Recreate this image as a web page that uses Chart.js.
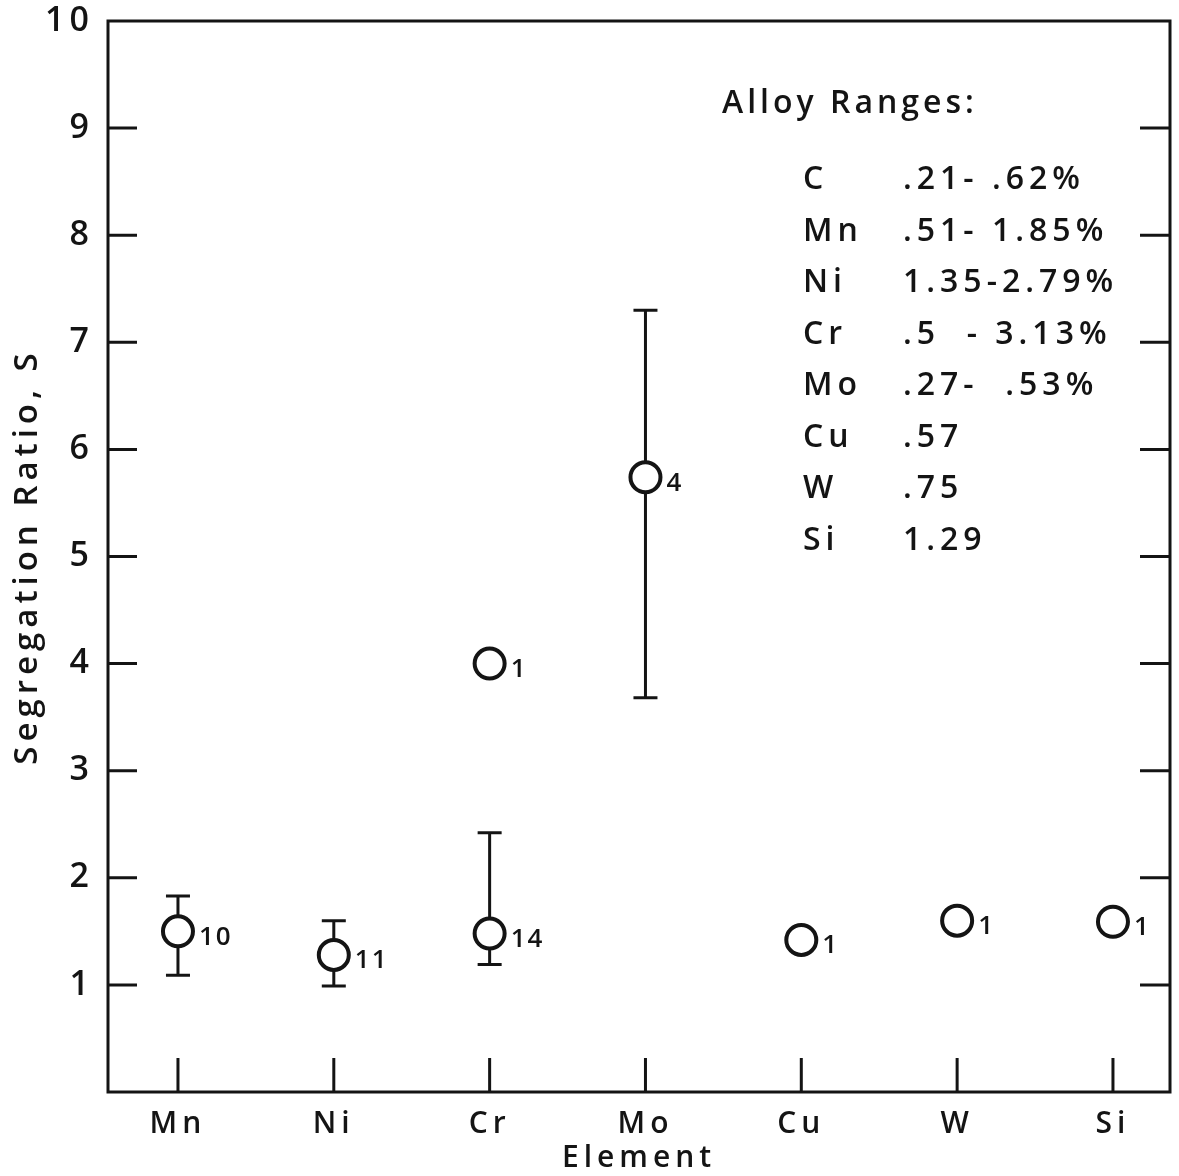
<!DOCTYPE html>
<html>
<head>
  <title>Segregation Ratio by Element</title>
  <script src="https://cdn.jsdelivr.net/npm/chart.js"></script>
  <style>
    html, body { margin: 0; padding: 0; background: #ffffff; overflow: hidden; }
    #wrap { width: 1179px; height: 1176px; position: relative; }
  </style>
</head>
<body>
  <div id="wrap"><canvas id="segChart"></canvas></div>

  <script>
    // elements along the x axis
    const elements = ['Mn', 'Ni', 'Cr', 'Mo', 'Cu', 'W', 'Si'];

    // measured points: element, mean ratio, error range, number of heats
    const pointElement = ['Mn', 'Ni', 'Cr', 'Cr', 'Mo', 'Cu', 'W', 'Si'];
    const ratio        = [1.50, 1.28, 1.48, 4.00, 5.74, 1.42, 1.60, 1.59];
    const errLow       = [1.09, 0.99, 1.19, null, 3.68, null, null, null];
    const errHigh      = [1.83, 1.60, 2.42, null, 7.30, null, null, null];
    const counts       = [10, 11, 14, 1, 4, 1, 1, 1];

    // y tick labels (bottom one left blank)
    const yTickLabels = ['', '1', '2', '3', '4', '5', '6', '7', '8', '9', '10'];

    // alloy composition ranges box
    const alloyTitle = 'Alloy Ranges:';
    const alloyElems  = ['C', 'Mn', 'Ni', 'Cr', 'Mo', 'Cu', 'W', 'Si'];
    const alloyRanges = ['.21- .62%', '.51- 1.85%', '1.35-2.79%', '.5  - 3.13%', '.27-  .53%', '.57', '.75', '1.29'];

    const ink = '#141414';
    const fontFam = '"Open Sans", "DejaVu Sans", sans-serif';

    const points = ratio.map((v, i) => ({ x: elements.indexOf(pointElement[i]), y: v }));

    const decorPlugin = {
      id: 'decor',
      beforeDraw(chart) {
        // wide lettering for axis labels and titles
        chart.ctx.letterSpacing = '5px';
      },
      beforeDatasetsDraw(chart) {
        const ctx = chart.ctx;
        const xs = chart.scales.x, ys = chart.scales.y;
        ctx.save();
        ctx.strokeStyle = ink;
        ctx.lineWidth = 3;
        // error bars
        for (let i = 0; i < ratio.length; i++) {
          if (errLow[i] === null) continue;
          const px = xs.getPixelForValue(points[i].x);
          const top = ys.getPixelForValue(errHigh[i]);
          const bot = ys.getPixelForValue(errLow[i]);
          ctx.beginPath();
          ctx.moveTo(px, top); ctx.lineTo(px, bot);
          ctx.moveTo(px - 12, top); ctx.lineTo(px + 12, top);
          ctx.moveTo(px - 12, bot); ctx.lineTo(px + 12, bot);
          ctx.stroke();
        }
        ctx.restore();
      },
      afterDraw(chart) {
        const ctx = chart.ctx;
        const a = chart.chartArea;
        const xs = chart.scales.x, ys = chart.scales.y;
        ctx.save();
        ctx.strokeStyle = ink;
        ctx.fillStyle = ink;
        ctx.lineWidth = 3;
        // frame
        ctx.strokeRect(a.left, a.top, a.right - a.left, a.bottom - a.top);
        // inward ticks
        ctx.beginPath();
        for (let v = 1; v <= 9; v++) {
          const py = ys.getPixelForValue(v);
          ctx.moveTo(a.left, py); ctx.lineTo(a.left + 29, py);
          ctx.moveTo(a.right, py); ctx.lineTo(a.right - 30, py);
        }
        elements.forEach((e, i) => {
          const px = xs.getPixelForValue(i);
          ctx.moveTo(px, a.bottom); ctx.lineTo(px, a.bottom - 34);
        });
        ctx.stroke();

        // counts beside the points
        ctx.letterSpacing = '2px';
        ctx.font = '600 26px ' + fontFam;
        ctx.textAlign = 'left';
        ctx.textBaseline = 'middle';
        for (let i = 0; i < ratio.length; i++) {
          const px = xs.getPixelForValue(points[i].x);
          const py = ys.getPixelForValue(points[i].y);
          ctx.fillText(String(counts[i]), px + 21, py + 6);
        }

        // alloy ranges box
        ctx.letterSpacing = '4px';
        ctx.font = '600 32px ' + fontFam;
        ctx.fillText(alloyTitle, a.left + 614, 104);
        ctx.letterSpacing = '5px';
        alloyElems.forEach((el, i) => {
          const py = 180 + i * 51.5;
          ctx.fillText(el, a.left + 695, py);
          ctx.fillText(alloyRanges[i], a.left + 795, py);
        });
        ctx.restore();
      }
    };

    const ctx = document.getElementById('segChart').getContext('2d');
    const chart = new Chart(ctx, {
      type: 'scatter',
      data: {
        datasets: [{
          data: points,
          pointStyle: 'circle',
          pointRadius: 15,
          pointHoverRadius: 15,
          pointBorderWidth: 4,
          pointBorderColor: ink,
          pointBackgroundColor: '#ffffff'
        }]
      },
      options: {
        responsive: true,
        maintainAspectRatio: false,
        animation: false,
        layout: { autoPadding: false, padding: { top: 21, right: 9, left: 0, bottom: 0 } },
        plugins: {
          legend: { display: false },
          tooltip: { enabled: false }
        },
        scales: {
          x: {
            type: 'linear',
            min: -0.449,
            max: 6.366,
            afterBuildTicks: (scale) => {
              scale.ticks = elements.map((e, i) => ({ value: i }));
            },
            afterFit: (scale) => {
              scale.height = 84;
              scale.paddingLeft = 0;
              scale.paddingRight = 0;
            },
            grid: { display: false },
            border: { display: false },
            ticks: {
              padding: 6,
              color: ink,
              font: { family: fontFam, size: 30, weight: '600' },
              callback: (v) => elements[v] || ''
            },
            title: {
              display: true,
              text: 'Element',
              color: ink,
              padding: { top: 0, bottom: 0 },
              font: { family: fontFam, size: 30, weight: '600' }
            }
          },
          y: {
            min: 0,
            max: 10,
            afterFit: (scale) => {
              scale.width = 108;
              scale.paddingTop = 0;
              scale.paddingBottom = 0;
            },
            grid: { display: false },
            border: { display: false },
            ticks: {
              stepSize: 1,
              padding: 6,
              color: ink,
              font: { family: fontFam, size: 34, weight: '600' },
              callback: (v) => yTickLabels[v]
            },
            title: {
              display: true,
              text: 'Segregation Ratio, S',
              color: ink,
              padding: { top: 8, bottom: 0 },
              font: { family: fontFam, size: 33, weight: '600' }
            }
          }
        }
      },
      plugins: [decorPlugin]
    });
  </script>
</body>
</html>
